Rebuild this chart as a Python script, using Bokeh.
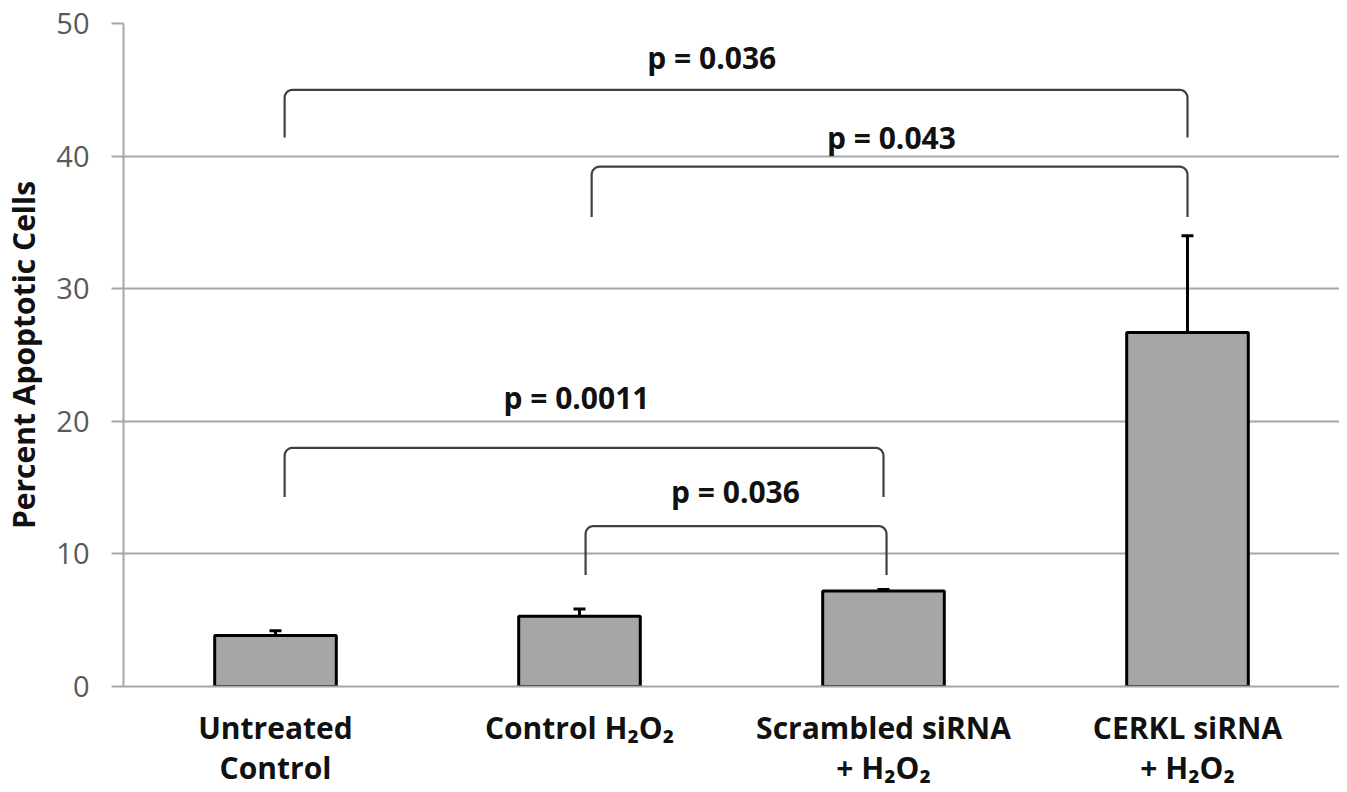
import numpy as np
from bokeh.plotting import figure
from bokeh.models import ColumnDataSource, Range1d, FixedTicker, Whisker, TeeHead
from bokeh.core.properties import value
from bokeh.embed import file_html
from bokeh.resources import INLINE

# ---- data ----
categories = ["Untreated\nControl", "Control H\u2082O\u2082", "Scrambled siRNA\n+ H\u2082O\u2082", "CERKL siRNA\n+ H\u2082O\u2082"]
means = [3.85, 5.3, 7.2, 26.7]
errors = [0.35, 0.55, 0.12, 7.3]
y_ticks = [0, 10, 20, 30, 40, 50]

# significance brackets (category positions, heights)
bracket_start = [0.03, 1.04, 0.03, 1.02]
bracket_end = [3.0, 3.0, 2.0, 2.01]
bracket_top = [45.0, 39.2, 18.0, 12.1]
bracket_low = [41.4, 35.4, 14.3, 8.4]
p_labels = ["p = 0.036", "p = 0.043", "p = 0.0011", "p = 0.036"]
p_label_x = [1.435, 2.026, 0.99, 1.513]
p_label_y = [47.4, 41.4, 21.8, 14.7]

FONT = "Open Sans"
GRID = "#a6a6a6"

x = list(range(len(categories)))
src = ColumnDataSource(dict(x=x, top=means, upper=[m + e for m, e in zip(means, errors)]))

p = figure(width=1339, height=790, output_backend="svg", toolbar_location=None,
           x_range=Range1d(-0.5, 3.5), y_range=Range1d(0, 50),
           min_border_left=122, min_border_right=0, min_border_top=23, min_border_bottom=103)
p.outline_line_color = None
p.background_fill_color = "white"

# bars
p.vbar(x="x", top="top", width=0.4, bottom=0, source=src,
       fill_color="#a6a6a6", line_color="black", line_width=3)

# error bars (upper only)
w = Whisker(base="x", lower="top", upper="upper", source=src,
            lower_head=None, upper_head=TeeHead(size=12, line_width=3, line_color="black"),
            line_width=3, line_color="black", level="annotation")
p.add_layout(w)

# brackets with rounded corners
rx, ry = 0.026, 0.6
t = np.linspace(0, np.pi / 2, 8)
xs, ys = [], []
for a, b, yt, yl in zip(bracket_start, bracket_end, bracket_top, bracket_low):
    lx = [a] + list(a + rx - rx * np.cos(t)) + list(b - rx + rx * np.sin(t)) + [b]
    ly = [yl] + list(yt - ry + ry * np.sin(t)) + list(yt - ry + ry * np.cos(t)) + [yl]
    xs.append(lx)
    ys.append(ly)
p.multi_line(xs=xs, ys=ys, line_color="#404040", line_width=2.2)

p.text(x=p_label_x, y=p_label_y, text=p_labels, text_font=value(FONT), text_font_style="bold",
       text_font_size="30px", text_align="center", text_baseline="middle", text_color="#111111")

# axes
p.xaxis.ticker = FixedTicker(ticks=x)
p.xaxis.major_label_overrides = {i: c for i, c in enumerate(categories)}
p.xaxis.major_tick_line_color = None
p.xaxis.minor_tick_line_color = None
p.xaxis.axis_line_color = GRID
p.xaxis.axis_line_width = 2
p.xaxis.major_label_text_font = FONT
p.xaxis.major_label_text_font_style = "bold"
p.xaxis.major_label_text_font_size = "30px"
p.xaxis.major_label_text_color = "#111111"
p.xaxis.major_label_text_line_height = 0.98
p.xaxis.major_label_standoff = 14

p.yaxis.ticker = FixedTicker(ticks=y_ticks)
p.yaxis.minor_tick_line_color = None
p.yaxis.major_tick_in = 0
p.yaxis.major_tick_out = 12
p.yaxis.major_tick_line_color = GRID
p.yaxis.major_tick_line_width = 2
p.yaxis.axis_line_color = GRID
p.yaxis.axis_line_width = 2
p.yaxis.major_label_text_font = FONT
p.yaxis.major_label_text_font_size = "29px"
p.yaxis.major_label_text_color = "#595959"
p.yaxis.major_label_standoff = 22
p.yaxis.axis_label = "Percent Apoptotic Cells"
p.yaxis.axis_label_text_font = FONT
p.yaxis.axis_label_text_font_style = "bold"
p.yaxis.axis_label_text_font_size = "30px"
p.yaxis.axis_label_text_color = "#111111"
p.yaxis.axis_label_standoff = 9

p.xgrid.grid_line_color = None
p.ygrid.grid_line_color = GRID
p.ygrid.grid_line_width = 2

open("out.html", "w").write(file_html(p, INLINE))
